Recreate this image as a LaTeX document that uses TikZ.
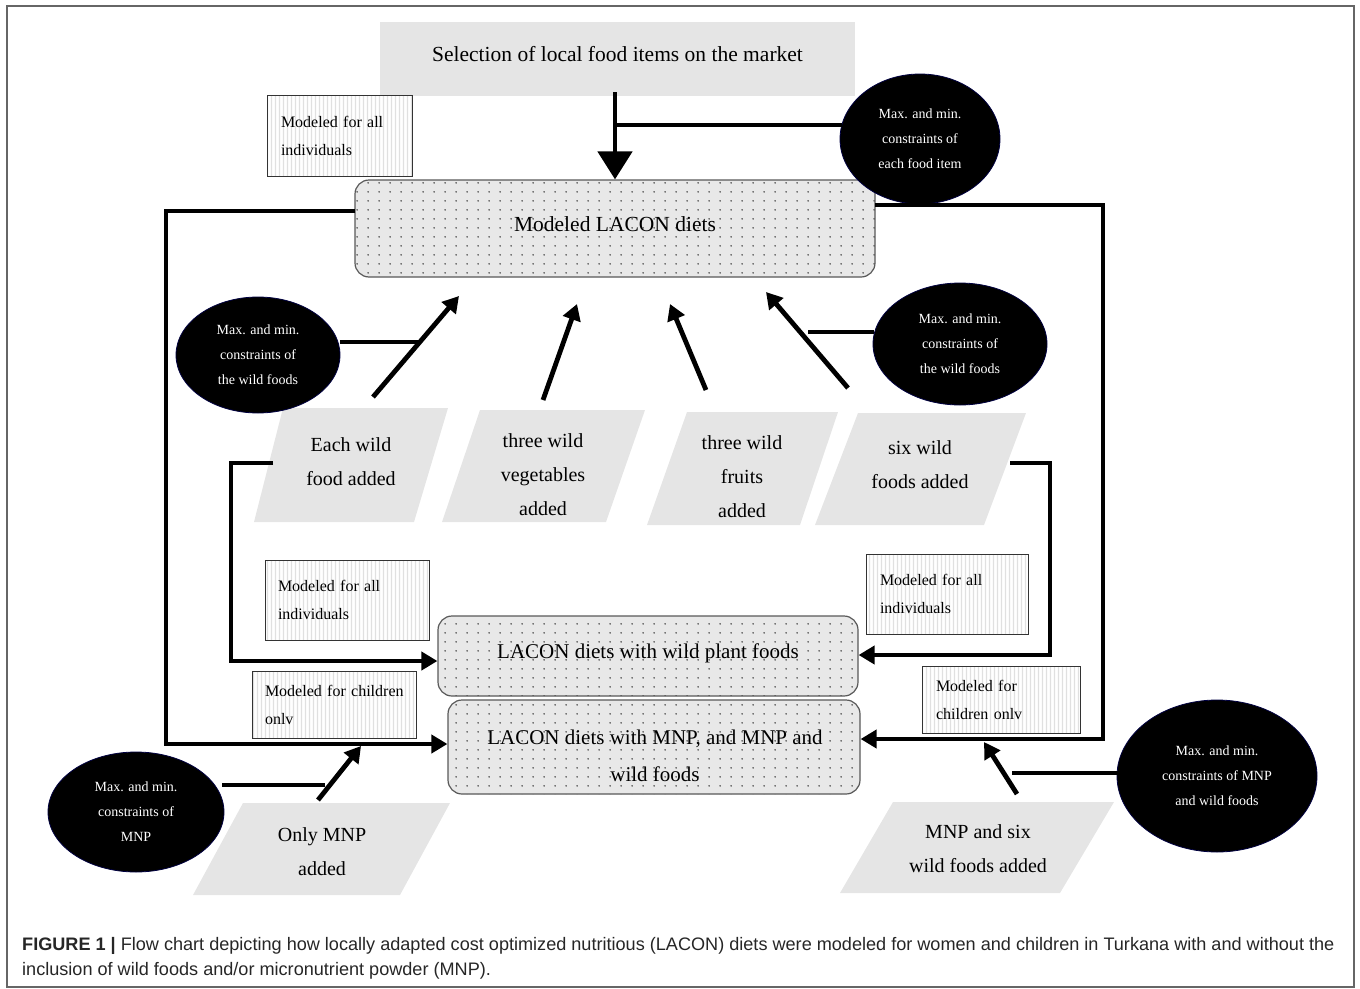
\documentclass[tikz,border=0pt]{standalone}
\usepackage{fontspec}
\setmainfont{Liberation Serif}
\newfontfamily\capfont{Liberation Sans}
\usetikzlibrary{arrows.meta,shapes.geometric,patterns.meta,calc}

\tikzdeclarepattern{
  name=sparsedots,
  type=uncolored,
  bounding box={(0pt,0pt) and (11pt,9pt)},
  tile size={(11pt,9pt)},
  code={\fill (5.5pt,4.5pt) circle (0.95pt);}
}
\tikzdeclarepattern{
  name=vstripes,
  type=uncolored,
  bounding box={(0pt,0pt) and (3.6pt,300pt)},
  tile size={(3.6pt,300pt)},
  code={\fill (1pt,0pt) rectangle (2.4pt,300pt);}
}

\begin{document}
\begin{tikzpicture}[x=1pt,y=-1pt,
  conn/.style={line width=4.8pt, line join=miter},
  arr/.style={conn, -{Triangle[length=16pt,width=18pt]}},
  bigarr/.style={conn, -{Triangle[length=28pt,width=34pt]}},
  dotbox/.style={rounded corners=14pt, draw=black!65, line width=1.2pt,
     preaction={fill=gray!18}, pattern=sparsedots, pattern color=black!70,
     inner sep=0pt},
  boxtext/.style={align=center, inner sep=0pt},
  stripebox/.style={draw=black!80, line width=1pt, preaction={fill=white},
     pattern=vstripes, pattern color=black!12, align=left, inner sep=0pt,
     font=\fontsize{16}{28}\selectfont},
  blackell/.style={ellipse, fill=black, draw=black!75!blue, line width=0.8pt,
     text=white, inner sep=0pt, align=center, font=\fontsize{14}{25}\selectfont},
  para/.style={fill=gray!20},
  ptext/.style={align=center, font=\fontsize{20}{34}\selectfont, inner sep=0pt}
]
\useasboundingbox (0,0) rectangle (1360,988);
\draw[black!60, line width=1.2pt] (7,6) rectangle (1354,987);

% ---- main boxes
\node[fill=gray!20, minimum width=475pt, minimum height=74pt, inner sep=0pt] (sel) at (617.5,59) {};
\node[boxtext, font=\fontsize{21.5}{26}\selectfont] (selt) at (617.5,54) {Selection of local food items on the market};
\node[dotbox, minimum width=520pt, minimum height=97pt] (lacon) at (615,228.5) {};
\node[boxtext, font=\fontsize{21.5}{26}\selectfont] (lacont) at (615,224) {Modeled LACON diets};
\node[dotbox, minimum width=420pt, minimum height=80pt] (wild) at (648,656) {};
\node[boxtext, font=\fontsize{21}{26}\selectfont] (wildt) at (648,653) {LACON diets with wild plant foods};
\node[dotbox, minimum width=412pt, minimum height=94pt] (mnp) at (654,747) {};
\node[boxtext, font=\fontsize{21}{37}\selectfont] (mnpt) at (655,756) {LACON diets with MNP, and MNP and\\wild foods};

% ---- striped note boxes
\node[stripebox, minimum width=145pt, minimum height=81pt, text width=117pt] (m1) at (339.5,135.5) {Modeled for all\\individuals};
\node[stripebox, minimum width=164pt, minimum height=80pt, text width=138pt] (m2) at (347,600) {Modeled for all\\individuals};
\node[stripebox, minimum width=162pt, minimum height=80pt, text width=134pt] (m3) at (947,594) {Modeled for all\\individuals};
\node[stripebox, minimum width=164pt, minimum height=67pt, text width=138pt] (m4) at (334,704.5) {\mbox{Modeled for children}\\onlv};
\node[stripebox, minimum width=158pt, minimum height=67pt, text width=130pt] (m5) at (1001,699.5) {Modeled for\\children onlv};

% ---- parallelograms
\fill[para] (283,408) -- (448,408) -- (414,522) -- (254,522) -- cycle;
\node[ptext] (p1) at (351,462) {Each wild\\food added};
\fill[para] (480,410) -- (645,410) -- (606,522) -- (442,522) -- cycle;
\node[ptext] (p2) at (543,475) {three wild\\vegetables\\added};
\fill[para] (687,412) -- (838,412) -- (800,525) -- (647,525) -- cycle;
\node[ptext] (p3) at (742,477) {three wild\\fruits\\added};
\fill[para] (858,413) -- (1026,413) -- (984,525) -- (815,525) -- cycle;
\node[ptext] (p4) at (920,465) {six wild\\foods added};
\fill[para] (243,803) -- (450,803) -- (400,895) -- (193,895) -- cycle;
\node[ptext] (p5) at (322,852) {Only MNP\\added};
\fill[para] (893,802) -- (1114,802) -- (1060,893) -- (840,893) -- cycle;
\node[ptext] (p6) at (978,849) {MNP and six\\wild foods added};

% ---- ellipses
\node[blackell, minimum width=160pt, minimum height=130pt] (e1) at (920,139) {Max. and min.\\constraints of\\each food item};
\node[blackell, minimum width=164pt, minimum height=116pt] (e2) at (258,355) {Max. and min.\\constraints of\\the wild foods};
\node[blackell, minimum width=174pt, minimum height=122pt] (e3) at (960,344) {Max. and min.\\constraints of\\the wild foods};
\node[blackell, minimum width=176pt, minimum height=120pt] (e4) at (136,812) {Max. and min.\\constraints of\\MNP};
\node[blackell, minimum width=200pt, minimum height=152pt] (e5) at (1217,776) {Max. and min.\\constraints of MNP\\and wild foods};

% ---- coordinates
\coordinate (t0) at (615,92);
\coordinate (c1) at (842,125);
\coordinate (c1b) at (615,125);
\coordinate (l0) at (355,211);
\coordinate (l1) at (166,211);
\coordinate (l2) at (166,744);
\coordinate (r0) at (875,205);
\coordinate (r1) at (1103,205);
\coordinate (r2) at (1103,739);
\coordinate (b0) at (273,463);
\coordinate (b1) at (231,463);
\coordinate (b2) at (231,661);
\coordinate (s0) at (1010,463);
\coordinate (s1) at (1050,463);
\coordinate (s2) at (1050,655);
\coordinate (w2a) at (340,342);
\coordinate (w2b) at (418,342);
\coordinate (w3a) at (874,332);
\coordinate (w3b) at (808,332);
\coordinate (w4a) at (222,785);
\coordinate (w4b) at (325,785);
\coordinate (w5a) at (1118,773);
\coordinate (w5b) at (1012,773);
\coordinate (a1s) at (373,397);
\coordinate (a1e) at (459,296);
\coordinate (a2s) at (543,400);
\coordinate (a2e) at (577,304);
\coordinate (a3s) at (706,390);
\coordinate (a3e) at (670,304);
\coordinate (a4s) at (848,388);
\coordinate (a4e) at (766,292);
\coordinate (a5s) at (318,800);
\coordinate (a5e) at (361,746);
\coordinate (a6s) at (1017,794);
\coordinate (a6e) at (984,742);

% ---- connectors
\draw[bigarr] (t0) -- (t0 |- lacon.north);
\draw[conn] (c1) -- (c1b);
\draw[arr] (l0) -- (l1) -- (l2) -- (l2 -| mnp.west);
\draw[arr] (r0) -- (r1) -- (r2) -- (r2 -| mnp.east);
\draw[arr] (b0) -- (b1) -- (b2) -- (b2 -| wild.west);
\draw[arr] (s0) -- (s1) -- (s2) -- (s2 -| wild.east);
\draw[conn] (w2a) -- (w2b);
\draw[conn] (w3a) -- (w3b);
\draw[conn] (w4a) -- (w4b);
\draw[conn] (w5a) -- (w5b);
\draw[arr] (a1s) -- (a1e);
\draw[arr] (a2s) -- (a2e);
\draw[arr] (a3s) -- (a3e);
\draw[arr] (a4s) -- (a4e);
\draw[arr] (a5s) -- (a5e);
\draw[arr] (a6s) -- (a6e);

% ---- caption
\node[anchor=base west, inner sep=0pt, text=black!85, font=\capfont\fontsize{18.1}{20}\selectfont] (cap1) at (22,950)
  {\textbf{FIGURE 1 |} Flow chart depicting how locally adapted cost optimized nutritious (LACON) diets were modeled for women and children in Turkana with and without the};
\node[anchor=base west, inner sep=0pt, text=black!85, font=\capfont\fontsize{18.1}{20}\selectfont] (cap2) at (22,975)
  {inclusion of wild foods and/or micronutrient powder (MNP).};
\end{tikzpicture}
\end{document}
